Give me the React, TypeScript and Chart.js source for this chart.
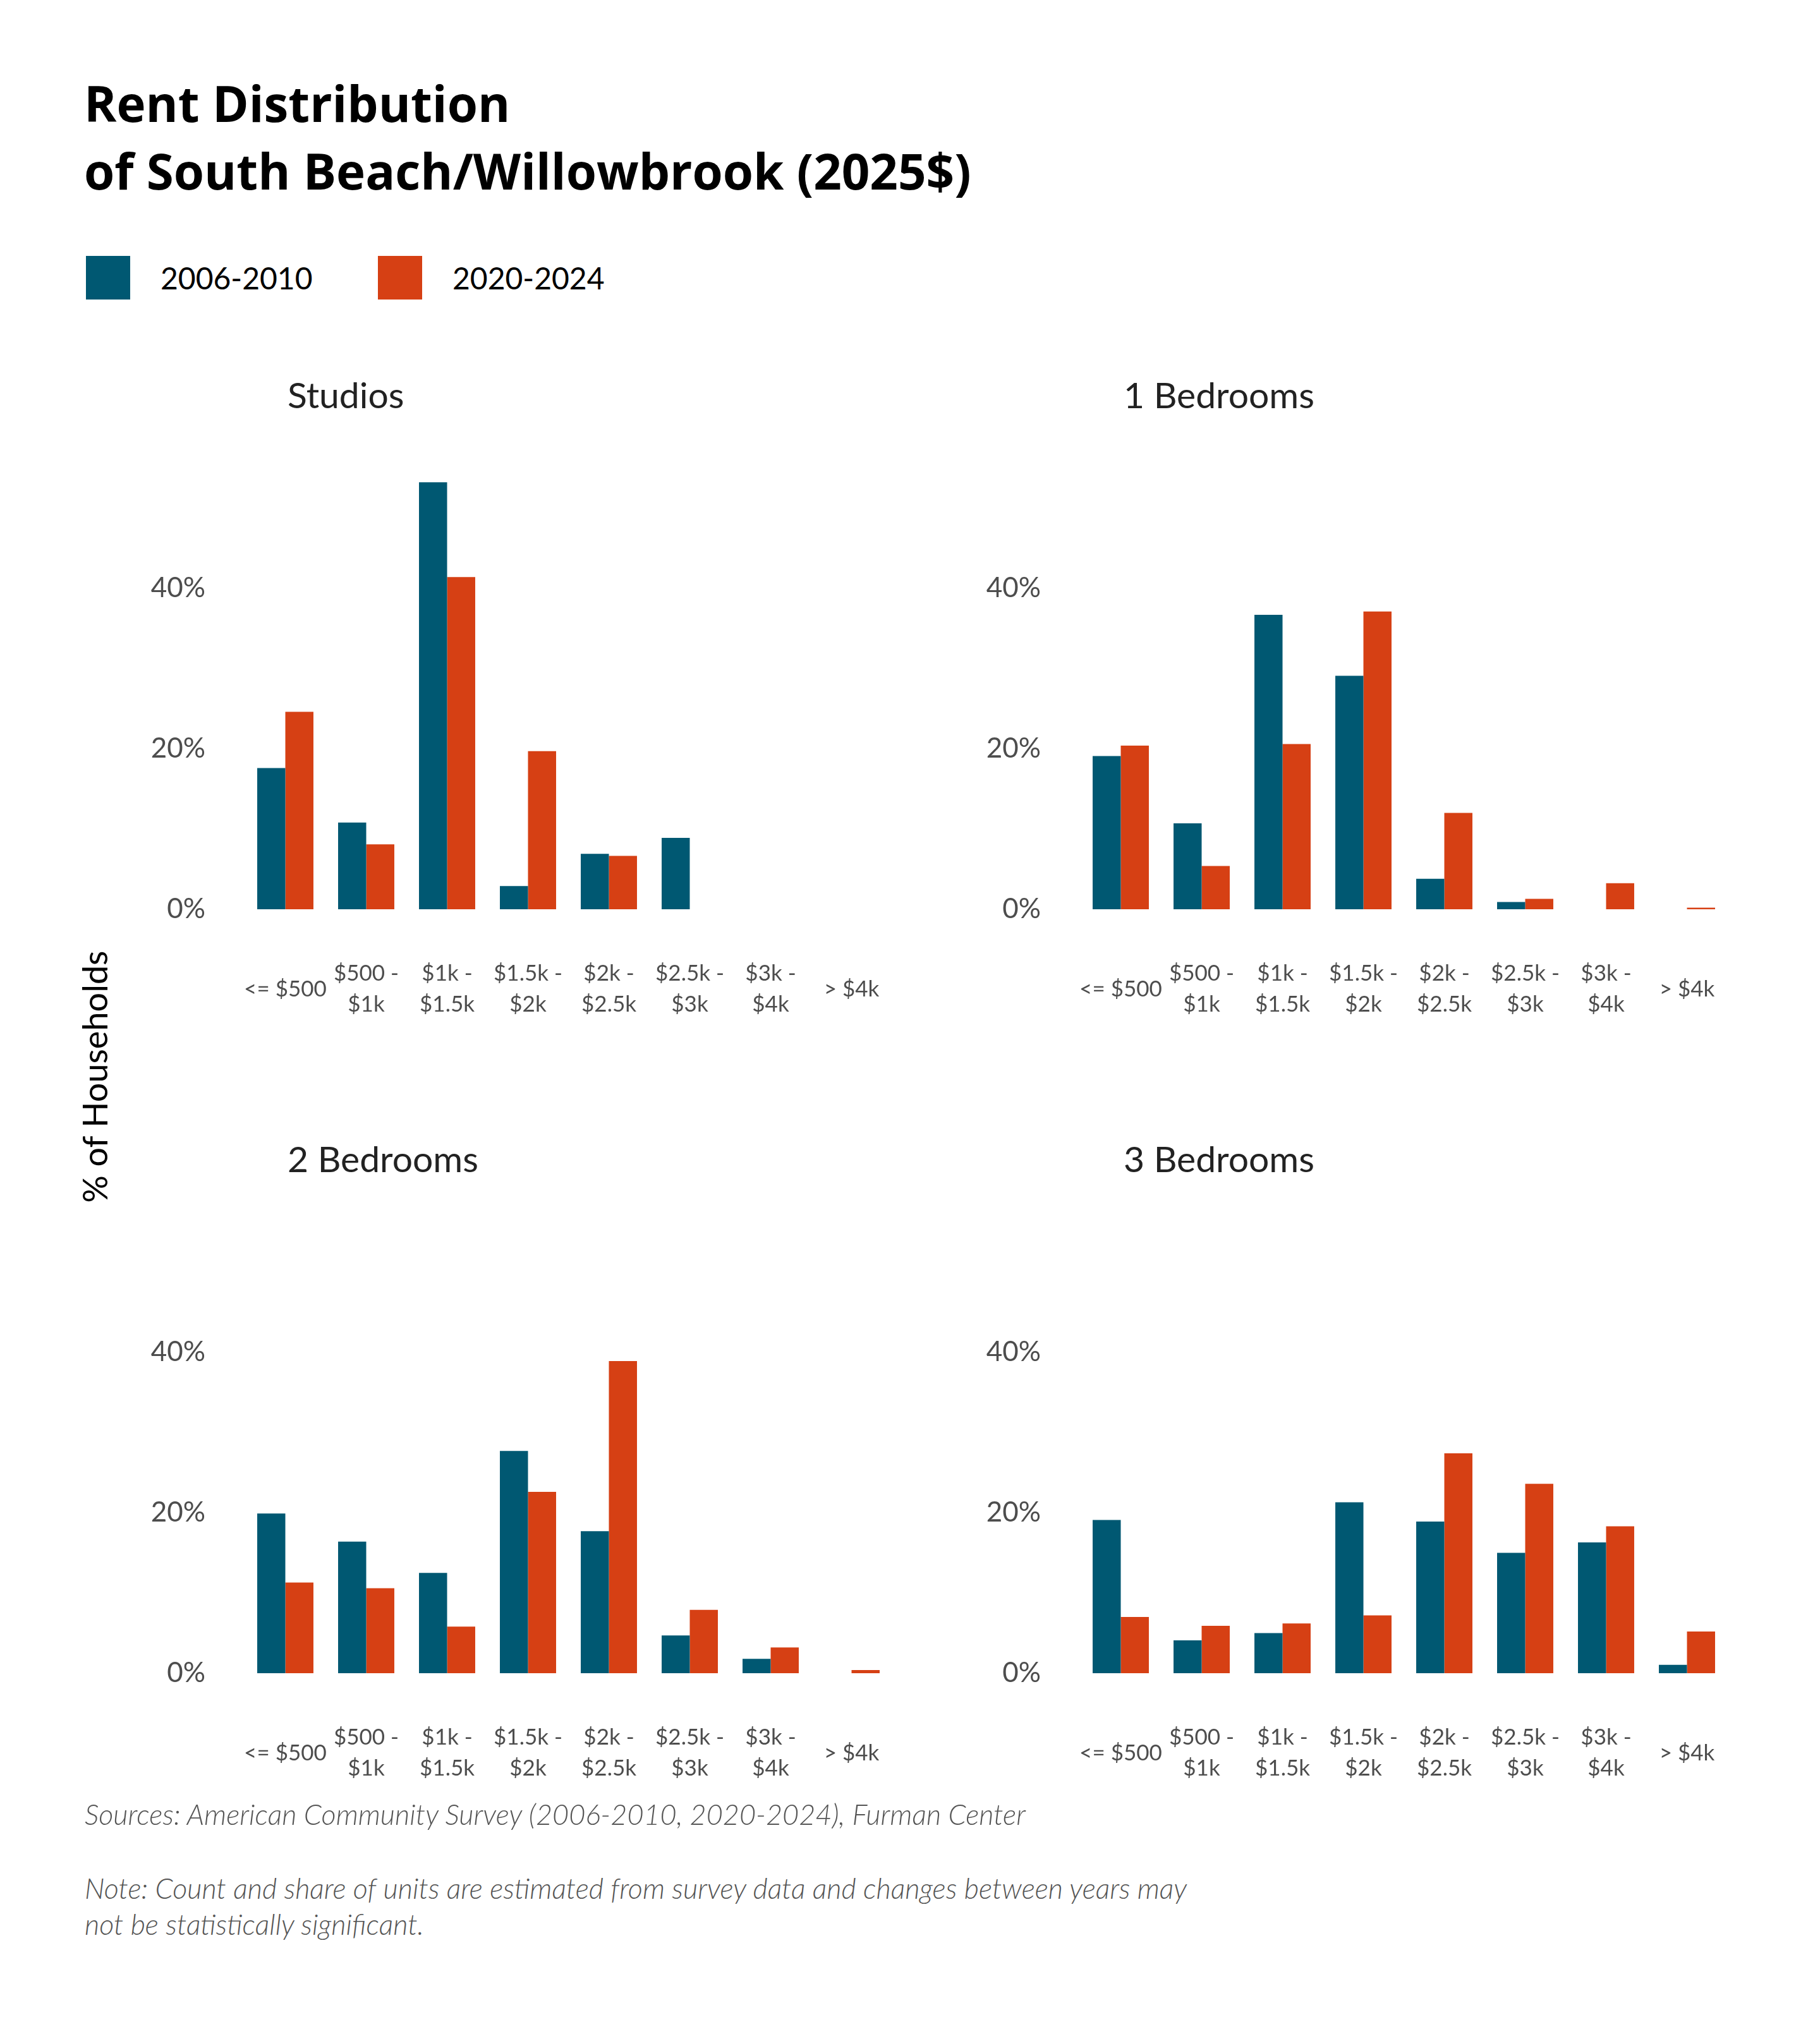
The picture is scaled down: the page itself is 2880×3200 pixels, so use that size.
import React, { useEffect, useRef } from "react";
import { Chart, registerables } from "chart.js";

Chart.register(...registerables);

// ---------- data ----------
const categories: (string | string[])[] = [
  "<= $500",
  ["$500 -", "$1k"],
  ["$1k -", "$1.5k"],
  ["$1.5k -", "$2k"],
  ["$2k -", "$2.5k"],
  ["$2.5k -", "$3k"],
  ["$3k -", "$4k"],
  "> $4k",
];
const seriesNames = ["2006-2010", "2020-2024"];
const panelTitles = ["Studios", "1 Bedrooms", "2 Bedrooms", "3 Bedrooms"];

const studios2006 = [17.6, 10.8, 53.2, 2.9, 6.9, 8.9, 0, 0];
const studios2020 = [24.6, 8.1, 41.4, 19.7, 6.65, 0, 0, 0];
const oneBed2006 = [19.1, 10.7, 36.7, 29.1, 3.8, 0.9, 0, 0];
const oneBed2020 = [20.4, 5.4, 20.6, 37.1, 12.0, 1.3, 3.25, 0.2];
const twoBed2006 = [19.9, 16.4, 12.5, 27.7, 17.7, 4.7, 1.8, 0];
const twoBed2020 = [11.3, 10.6, 5.8, 22.6, 38.9, 7.9, 3.2, 0.4];
const threeBed2006 = [19.1, 4.1, 5.0, 21.3, 18.9, 15.0, 16.3, 1.05];
const threeBed2020 = [7.0, 5.9, 6.2, 7.2, 27.4, 23.6, 18.3, 5.2];

const yTicks = [0, 20, 40];

// ---------- style ----------
const BLUE = "#005872";
const ORANGE = "#d64014";
const FONT = "Lato, 'Noto Sans', sans-serif";
const TITLE_FONT = "'Open Sans', Lato, sans-serif";
const TICK_COLOR = "#4d4d4d";

const CANVAS_W = 1240;
const CANVAS_H = 1000;

function BarPanel({ a, b, left, top }: { a: number[]; b: number[]; left: number; top: number }) {
  const ref = useRef<HTMLCanvasElement | null>(null);
  useEffect(() => {
    if (!ref.current) return;
    const chart = new Chart(ref.current, {
      type: "bar",
      data: {
        labels: categories as any,
        datasets: [
          { label: seriesNames[0], data: a, backgroundColor: BLUE, borderWidth: 0, categoryPercentage: 0.695, barPercentage: 1 },
          { label: seriesNames[1], data: b, backgroundColor: ORANGE, borderWidth: 0, categoryPercentage: 0.695, barPercentage: 1 },
        ],
      },
      options: {
        animation: false,
        responsive: false,
        devicePixelRatio: 1,
        layout: { padding: { left: 0, right: 28.5, top: 27, bottom: 0 } },
        plugins: {
          legend: { display: false },
          tooltip: { enabled: false },
          title: { display: false },
        },
        scales: {
          x: {
            grid: { display: false, drawTicks: false },
            border: { display: false },
            ticks: {
              autoSkip: false,
              maxRotation: 0,
              minRotation: 0,
              padding: 102,
              crossAlign: "center",
              color: TICK_COLOR,
              font: { family: FONT, size: 35, lineHeight: 1.39 },
            },
            afterFit: (s: any) => {
              s.height = 211;
              s.paddingLeft = 0;
              s.paddingRight = 0;
            },
          },
          y: {
            min: 0,
            max: 60,
            grid: { display: false, drawTicks: false },
            border: { display: false },
            afterBuildTicks: (s: any) => {
              s.ticks = yTicks.map((v) => ({ value: v }));
            },
            ticks: {
              padding: 62.5,
              color: TICK_COLOR,
              font: { family: FONT, size: 44 },
              callback: (v: any) => v + "%",
            },
            afterFit: (s: any) => {
              s.width = 187.5;
              s.paddingTop = 0;
              s.paddingBottom = 0;
            },
          },
        },
      },
    } as any);
    return () => chart.destroy();
  }, []);
  return (
    <canvas
      ref={ref}
      width={CANVAS_W}
      height={CANVAS_H}
      style={{ position: "absolute", left, top, width: CANVAS_W, height: CANVAS_H }}
    />
  );
}

export default function App() {
  useEffect(() => {
    document.body.style.margin = "0";
    document.body.style.background = "#ffffff";
  }, []);

  const colX = [200, 1522];
  const rowY = [650, 1859];
  const titleX = [455, 1778];
  const titleY = [596, 1805];
  const panels = [
    [studios2006, studios2020],
    [oneBed2006, oneBed2020],
    [twoBed2006, twoBed2020],
    [threeBed2006, threeBed2020],
  ];

  const footStyle: React.CSSProperties = {
    position: "absolute",
    left: 134,
    fontSize: 45,
    lineHeight: "57px",
    fontStyle: "italic",
    fontWeight: 300,
    color: "#555",
    whiteSpace: "nowrap",
  };

  return (
    <div style={{ position: "relative", width: 2880, height: 3200, background: "#fff", fontFamily: FONT, overflow: "hidden" }}>
      <div
        style={{
          position: "absolute",
          left: 133,
          top: 110,
          fontFamily: TITLE_FONT,
          fontSize: 78,
          lineHeight: "107px",
          fontWeight: 700,
          color: "#000",
          whiteSpace: "nowrap",
        }}
      >
        <div>Rent Distribution</div>
        <div>of South Beach/Willowbrook (2025$)</div>
      </div>

      {/* legend */}
      {seriesNames.map((name, i) => (
        <div
          key={name}
          style={{
            position: "absolute",
            left: i === 0 ? 136 : 598,
            top: 405,
            height: 69,
            display: "flex",
            alignItems: "center",
          }}
        >
          <div style={{ width: 70, height: 69, background: i === 0 ? BLUE : ORANGE }} />
          <div style={{ marginLeft: 48, fontSize: 48, color: "#000", whiteSpace: "nowrap" }}>{name}</div>
        </div>
      ))}

      {/* y-axis title */}
      <div
        style={{
          position: "absolute",
          left: 149,
          top: 1704,
          transform: "translate(-50%, -50%) rotate(-90deg)",
          fontSize: 54,
          color: "#000",
          whiteSpace: "nowrap",
        }}
      >
        % of Households
      </div>

      {panels.map((p, i) => {
        const c = i % 2;
        const r = Math.floor(i / 2);
        return (
          <React.Fragment key={i}>
            <div
              style={{
                position: "absolute",
                left: titleX[c],
                top: titleY[r],
                fontSize: 57,
                lineHeight: "56px",
                color: "#222",
                whiteSpace: "nowrap",
              }}
            >
              {panelTitles[i]}
            </div>
            <BarPanel a={p[0]} b={p[1]} left={colX[c]} top={rowY[r]} />
          </React.Fragment>
        );
      })}

      {/* footer */}
      <div style={{ ...footStyle, top: 2843 }}>
        Sources: American Community Survey (2006-2010, 2020-2024), Furman Center
      </div>
      <div style={{ ...footStyle, top: 2960 }}>
        <div>Note: Count and share of units are estimated from survey data and changes between years may</div>
        <div>not be statistically significant.</div>
      </div>
    </div>
  );
}
